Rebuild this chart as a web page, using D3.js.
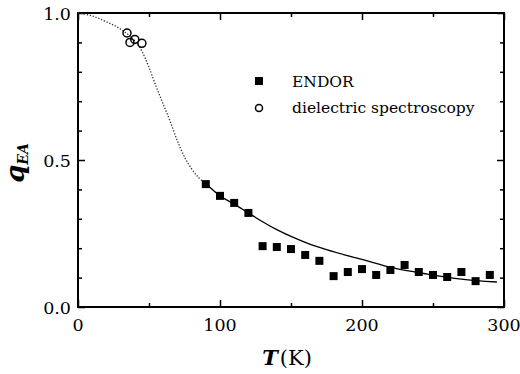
<!DOCTYPE html>
<html>
<head>
<meta charset="utf-8">
<script src="https://cdn.jsdelivr.net/npm/d3@7"></script>
<style>
  body { margin: 0; background: #fff; }
  svg text { font-family: "DejaVu Serif", "Liberation Serif", serif; }
</style>
</head>
<body>
<div id="chart"></div>
<script>
// ENDOR data (T in K, q_EA)
const endorT = [90, 100, 110, 120, 130, 140, 150, 160, 170, 180, 190, 200, 210, 220, 230, 240, 250, 260, 270, 280, 290];
const endorQ = [0.418, 0.378, 0.354, 0.32, 0.207, 0.204, 0.197, 0.177, 0.157, 0.105, 0.119, 0.129, 0.109, 0.126, 0.143, 0.119, 0.109, 0.102, 0.119, 0.088, 0.109];

// dielectric spectroscopy data
const dielT = [34.5, 36.6, 40, 45];
const dielQ = [0.932, 0.90, 0.91, 0.897];

// fitted curve: dotted part (extrapolated) and solid part
const fitDotT = [0, 10, 20, 30, 40, 45, 50, 55, 60, 65, 70, 75, 80, 85, 90];
const fitDotQ = [1.0, 0.99, 0.97, 0.945, 0.905, 0.87, 0.815, 0.75, 0.69, 0.63, 0.565, 0.51, 0.47, 0.44, 0.42];
const fitSolidT = [90, 100, 110, 120, 130, 140, 150, 160, 175, 200, 222, 246, 270, 295];
const fitSolidQ = [0.42, 0.378, 0.35, 0.32, 0.29, 0.263, 0.24, 0.22, 0.195, 0.162, 0.133, 0.112, 0.095, 0.085];

const xMajor = [0, 100, 200, 300];
const xMinor = [50, 150, 250];
const yMajor = [0.0, 0.5, 1.0];
const yMinor = [0.1, 0.2, 0.3, 0.4, 0.6, 0.7, 0.8, 0.9];

const width = 520, height = 374;
const margin = { top: 13, right: 16, bottom: 67, left: 78 };
const plotW = width - margin.left - margin.right;
const plotH = height - margin.top - margin.bottom;

const svg = d3.select("#chart").append("svg")
    .attr("width", width)
    .attr("height", height);

const g = svg.append("g")
    .attr("transform", `translate(${margin.left},${margin.top})`);

const x = d3.scaleLinear().domain([0, 300]).range([0, plotW]);
const y = d3.scaleLinear().domain([0, 1]).range([plotH, 0]);

// frame
g.append("rect")
    .attr("width", plotW)
    .attr("height", plotH)
    .attr("fill", "none")
    .attr("stroke", "#000")
    .attr("stroke-width", 2);

// inward ticks on all four sides
function drawTicks(axisFn, scale, values, len, transform) {
    g.append("g")
        .attr("transform", transform)
        .call(axisFn(scale).tickValues(values).tickSize(len).tickFormat(""))
        .call(s => s.select(".domain").remove())
        .call(s => s.selectAll("line").attr("stroke-width", 1.5));
}
drawTicks(d3.axisTop, x, xMajor, 7, `translate(0,${plotH})`);
drawTicks(d3.axisTop, x, xMinor, 4, `translate(0,${plotH})`);
drawTicks(d3.axisBottom, x, xMajor, 7, "translate(0,0)");
drawTicks(d3.axisBottom, x, xMinor, 4, "translate(0,0)");
drawTicks(d3.axisRight, y, yMajor, 7, "translate(0,0)");
drawTicks(d3.axisRight, y, yMinor, 4, "translate(0,0)");
drawTicks(d3.axisLeft, y, yMajor, 7, `translate(${plotW},0)`);
drawTicks(d3.axisLeft, y, yMinor, 4, `translate(${plotW},0)`);

// tick labels
g.selectAll(".xlab")
    .data(xMajor)
    .enter().append("text")
    .attr("x", d => x(d))
    .attr("y", plotH + 24)
    .attr("text-anchor", "middle")
    .attr("font-size", 17.5)
    .text(d => d);

g.selectAll(".ylab")
    .data(yMajor)
    .enter().append("text")
    .attr("x", -7)
    .attr("y", d => y(d) + 6.5)
    .attr("text-anchor", "end")
    .attr("font-size", 17.5)
    .text(d => d.toFixed(1));

// fitted curve
const line = d3.line()
    .x(d => x(d[0]))
    .y(d => y(d[1]))
    .curve(d3.curveMonotoneX);

g.append("path")
    .datum(d3.zip(fitDotT, fitDotQ))
    .attr("d", line)
    .attr("fill", "none")
    .attr("stroke", "#333")
    .attr("stroke-width", 1.3)
    .attr("stroke-dasharray", "1.3,1.7");

g.append("path")
    .datum(d3.zip(fitSolidT, fitSolidQ))
    .attr("d", line)
    .attr("fill", "none")
    .attr("stroke", "#000")
    .attr("stroke-width", 1.3);

// ENDOR squares
const sq = 8;
g.selectAll(".endor")
    .data(d3.zip(endorT, endorQ))
    .enter().append("rect")
    .attr("x", d => x(d[0]) - sq / 2)
    .attr("y", d => y(d[1]) - sq / 2)
    .attr("width", sq)
    .attr("height", sq)
    .attr("fill", "#000");

// dielectric circles
g.selectAll(".diel")
    .data(d3.zip(dielT, dielQ))
    .enter().append("circle")
    .attr("cx", d => x(d[0]))
    .attr("cy", d => y(d[1]))
    .attr("r", 4)
    .attr("fill", "none")
    .attr("stroke", "#000")
    .attr("stroke-width", 1.5);

// legend
const legend = svg.append("g");
legend.append("rect")
    .attr("x", 255).attr("y", 77)
    .attr("width", 8).attr("height", 8)
    .attr("fill", "#000");
legend.append("text")
    .attr("x", 292).attr("y", 87)
    .attr("font-size", 15.5)
    .text("ENDOR");
legend.append("circle")
    .attr("cx", 259).attr("cy", 108)
    .attr("r", 3.5)
    .attr("fill", "none")
    .attr("stroke", "#000")
    .attr("stroke-width", 1.5);
legend.append("text")
    .attr("x", 292).attr("y", 113)
    .attr("font-size", 15.5)
    .text("dielectric spectroscopy");

// x-axis title
const xt = svg.append("text")
    .attr("x", margin.left + x(150) - 4)
    .attr("y", 365)
    .attr("text-anchor", "middle")
    .attr("font-size", 21);
xt.append("tspan").attr("font-weight", "bold").attr("font-style", "italic").text("T");
xt.append("tspan").attr("dx", 2).text("(K)");

// y-axis title
const yt = svg.append("text")
    .attr("transform", `translate(24,${margin.top + y(0.5) + 3}) rotate(-90)`)
    .attr("text-anchor", "middle")
    .attr("font-size", 26)
    .attr("font-weight", "bold")
    .attr("font-style", "italic");
yt.append("tspan").text("q");
yt.append("tspan").attr("font-size", 14).attr("dy", 4).text("EA");
</script>
</body>
</html>
